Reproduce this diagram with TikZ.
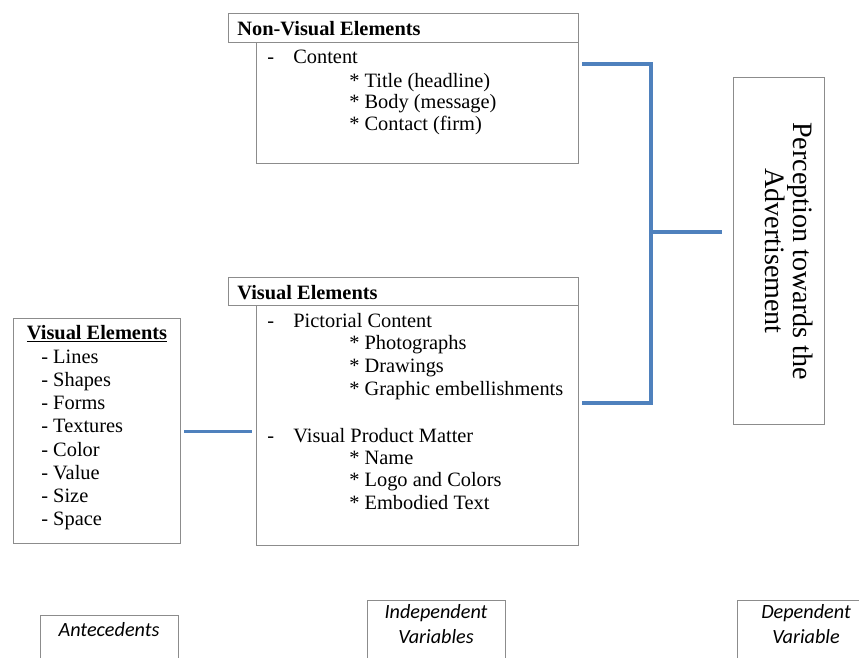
\documentclass[tikz,border=0pt]{standalone}
\usepackage{fontspec}
\setmainfont{Liberation Serif}
\newfontfamily\calfont{Carlito}
\definecolor{boxgray}{RGB}{140,140,140}
\definecolor{linkblue}{RGB}{79,129,189}
\tikzset{
  box/.style={draw=boxgray, line width=0.7pt, inner sep=0pt, anchor=north west},
  txt/.style={font=\fontsize{11.6}{12.8}\selectfont, inner sep=0pt, anchor=base west},
  foot/.style={font=\calfont\itshape\fontsize{11.5}{14}\selectfont, inner sep=0pt, align=center, anchor=base},
  link/.style={draw=linkblue, line width=1.8pt}
}
\begin{document}
\begin{tikzpicture}[x=0.02cm,y=-0.02cm]
\useasboundingbox (0,0) rectangle (859,657);
\clip (0,0) rectangle (859,657);

% boxes
\node[box, minimum width=7cm, minimum height=0.58cm] (nvtitle) at (228,13) {};
\node[box, minimum width=6.44cm, minimum height=2.42cm] (nvbox) at (256,42) {};
\node[box, minimum width=7cm, minimum height=0.56cm] (vtitle) at (228,277) {};
\node[box, minimum width=6.44cm, minimum height=4.8cm] (vbox) at (256,305) {};
\node[box, minimum width=3.34cm, minimum height=4.5cm] (lbox) at (13,318) {};
\node[box, minimum width=1.82cm, minimum height=6.94cm] (pbox) at (733,77) {};
\node[box, minimum width=2.76cm, minimum height=1.6cm] (antbox) at (40,615) {};
\node[box, minimum width=2.76cm, minimum height=1.6cm] (indbox) at (367,600) {};
\node[box, minimum width=2.76cm, minimum height=1.6cm] (depbox) at (737,600) {};

% non-visual elements
\node[txt] (nvhead) at (237,35) {\textbf{Non-Visual Elements}};
\node[txt] (nvdash) at (267,63) {-};
\node[txt] (nvcont) at (293,63) {Content};
\node[txt] (nvt1) at (349,87) {* Title (headline)};
\node[txt] (nvt2) at (349,108.5) {* Body (message)};
\node[txt] (nvt3) at (349,130) {* Contact (firm)};

% visual elements
\node[txt] (vhead) at (237,299) {\textbf{Visual Elements}};
\node[txt] (vdash1) at (267,327) {-};
\node[txt] (vpict) at (293,327) {Pictorial Content};
\foreach \t [count=\i] in {Photographs,Drawings,Graphic embellishments}
  \node[txt] (vp\i) at (349,{327+22.7*\i}) {* \t};
\node[txt] (vdash2) at (267,442) {-};
\node[txt] (vprod) at (293,442) {Visual Product Matter};
\foreach \t [count=\i] in {Name,Logo and Colors,Embodied Text}
  \node[txt] (vm\i) at (349,{442+22.4*\i}) {* \t};

% antecedents list
\node[txt, anchor=base] (lhead) at (97,339) {\underline{\textbf{Visual Elements}}};
\foreach \t [count=\i] in {Lines,Shapes,Forms,Textures,Color,Value,Size,Space}
  \node[txt] (li\i) at (41,{340+23.2*\i}) {- \t};

% dependent variable
\node[txt, anchor=center, rotate=-90, align=center, font=\fontsize{16}{14}\selectfont] (ptext) at (789,251)
  {Perception towards the\\Advertisement};

% footers
\node[foot] (anttext) at (109,636) {Antecedents};
\node[foot] (indtext) at (436,643) {Independent\\Variables};
\node[foot] (deptext) at (806,643) {Dependent\\Variable};

% connectors
\coordinate (jt) at (651,64);
\coordinate (jb) at (651,403);
\coordinate (jm) at (651,232);
\draw[link] ([xshift=0.06cm]nvbox.east |- jt) -- (jt) -- (jb) -- ([xshift=0.06cm]vbox.east |- jb);
\draw[link] (jm) -- ([xshift=-0.22cm]pbox.west |- jm);
\draw[link] ([xshift=0.06cm]lbox.east) -- ([xshift=-0.08cm]vbox.west |- lbox.east);
\end{tikzpicture}
\end{document}
